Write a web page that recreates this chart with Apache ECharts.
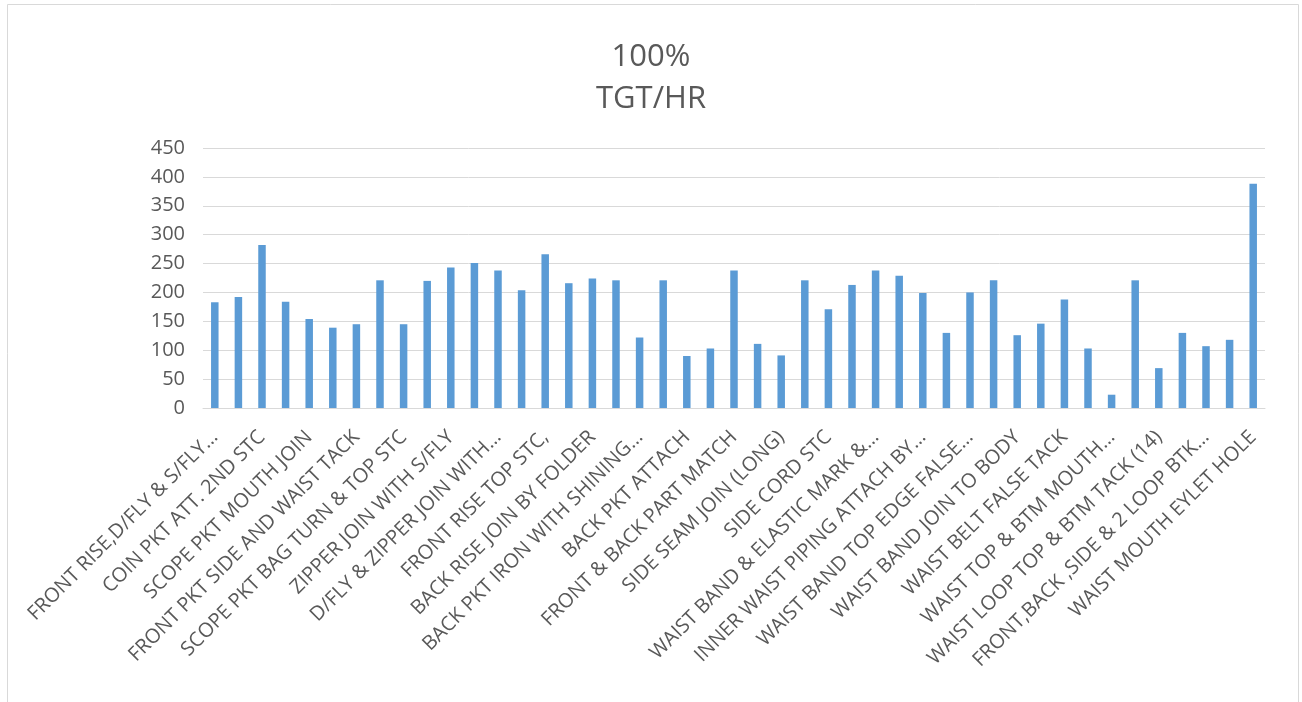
<!DOCTYPE html>
<html>
<head>
<meta charset="utf-8">
<script src="https://cdn.jsdelivr.net/npm/echarts@6/dist/echarts.min.js"></script>
<style>
  html, body { margin: 0; padding: 0; background: #fff; }
  #main { width: 1302px; height: 702px; }
</style>
</head>
<body>
<div id="main"></div>
<script>
// only every other operation name is printed on the axis
const operations = [
  'FRONT RISE,D/FLY & S/FLY…', '',
  'COIN PKT ATT. 2ND STC', '',
  'SCOPE PKT MOUTH JOIN', '',
  'FRONT PKT SIDE AND WAIST TACK', '',
  'SCOPE PKT BAG TURN & TOP STC', '',
  'ZIPPER JOIN WITH S/FLY', '',
  'D/FLY & ZIPPER JOIN WITH…', '',
  'FRONT RISE TOP STC,', '',
  'BACK RISE JOIN BY FOLDER', '',
  'BACK PKT IRON WITH SHINING…', '',
  'BACK PKT ATTACH', '',
  'FRONT & BACK PART MATCH', '',
  'SIDE SEAM JOIN (LONG)', '',
  'SIDE CORD STC', '',
  'WAIST BAND & ELASTIC MARK &…', '',
  'INNER WAIST PIPING ATTACH BY…', '',
  'WAIST BAND TOP EDGE FALSE…', '',
  'WAIST BAND JOIN TO BODY', '',
  'WAIST BELT FALSE TACK', '',
  'WAIST TOP & BTM MOUTH…', '',
  'WAIST LOOP TOP & BTM TACK (14)', '',
  'FRONT,BACK ,SIDE & 2 LOOP BTK…', '',
  'WAIST MOUTH EYLET HOLE'
];

const targetPerHour = [
  183, 192, 282, 184, 154, 139, 145, 221, 145, 220,
  243, 251, 238, 204, 266, 216, 224, 221, 122, 221,
  90, 103, 238, 111, 91, 221, 171, 213, 238, 229,
  199, 130, 200, 221, 126, 146, 188, 103, 23, 221,
  69, 130, 107, 118, 388
];

const yTicks = { min: 0, max: 450, interval: 50 };

const chart = echarts.init(document.getElementById('main'), null, { renderer: 'canvas' });

const option = {
  animation: false,
  backgroundColor: '#fff',
  textStyle: { fontFamily: 'Open Sans, sans-serif' },
  title: {
    text: '100%\nTGT/HR',
    left: 'center',
    top: 31,
    textStyle: {
      color: '#595959',
      fontSize: 31,
      fontWeight: 'normal',
      lineHeight: 42,
      fontFamily: 'Open Sans, sans-serif'
    }
  },
  graphic: [{
    type: 'rect',
    shape: { x: 7.5, y: 4.5, width: 1291, height: 720 },
    style: { fill: 'none', stroke: '#d9d9d9', lineWidth: 1 },
    silent: true
  }],
  grid: { left: 203, right: 37, top: 148, bottom: 294 },
  xAxis: {
    type: 'category',
    data: operations,
    axisLine: { lineStyle: { color: '#d9d9d9' } },
    axisTick: { show: false },
    axisLabel: {
      interval: 0,
      rotate: 45,
      margin: 26,
      color: '#595959',
      fontSize: 20
    }
  },
  yAxis: {
    type: 'value',
    min: yTicks.min,
    max: yTicks.max,
    interval: yTicks.interval,
    axisLine: { show: false },
    axisTick: { show: false },
    axisLabel: { color: '#595959', fontSize: 20, margin: 18 },
    splitLine: { lineStyle: { color: '#d9d9d9', width: 1 } }
  },
  series: [{
    type: 'bar',
    data: targetPerHour,
    barWidth: 7.5,
    itemStyle: { color: '#5b9bd5' }
  }]
};

chart.setOption(option);
</script>
</body>
</html>
